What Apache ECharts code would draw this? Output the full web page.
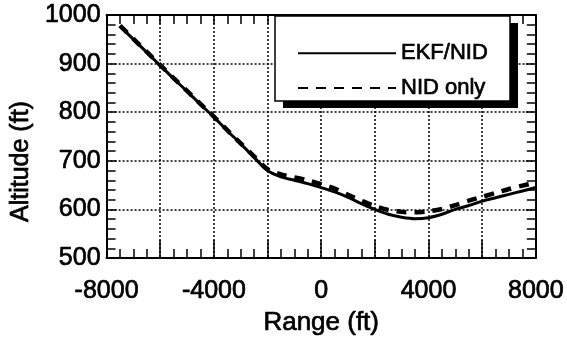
<!DOCTYPE html>
<html>
<head>
<meta charset="utf-8">
<script src="https://cdn.jsdelivr.net/npm/echarts@6/dist/echarts.min.js"></script>
<style>
  html, body { margin: 0; padding: 0; background: #fff; }
  #main { width: 567px; height: 341px; }
</style>
</head>
<body>
<div id="main"></div>
<script>
// range points (ft)
var rangeFt = [-7500, -7000, -6500, -6000, -5500, -5000, -4500, -4000, -3500, -3000, -2500, -2000,
  -1500, -1000, -500, 0, 500, 1000, 1500, 2000, 2500, 3000, 3500, 4000, 4500, 5000, 5500, 6000,
  6500, 7000, 7500, 8000];
// EKF/NID altitude (ft)
var ekfAlt = [977, 950, 923, 896, 869, 843, 816, 790, 762, 735, 707, 680,
  667, 660, 653, 645, 636, 625, 612, 600, 590, 584, 581, 583, 590, 600, 608, 617,
  624, 631, 638, 645];
// NID only altitude (ft)
var nidAlt = [978, 951, 924, 897, 870, 844, 817, 791, 763, 736, 709, 683,
  672, 666, 660, 652, 643, 630, 618, 607, 599, 595, 594, 596, 601, 609, 618, 626,
  634, 642, 649, 655];
var xTicks = [-8000, -4000, 0, 4000, 8000];

var font = 'Liberation Sans, Arial, sans-serif';
// scanned text looks a bit heavier than plain regular
var txt = { fontFamily: font, color: '#000', textBorderColor: '#000', textBorderWidth: 0.7 };

function pairs (ys) {
  return rangeFt.map(function (x, i) { return [x, ys[i]]; });
}
function style (o) { return Object.assign({}, txt, o); }

var myChart = echarts.init(document.getElementById('main'));

var dotted = { show: true, lineStyle: { color: '#000', width: 1.5, type: [2, 2] } };
var axLine = { show: true, onZero: false, lineStyle: { color: '#000', width: 2 } };
var tick = function (len) { return { inside: true, length: len, lineStyle: { color: '#000', width: 1.5 } }; };
var minor = function (n) { return { show: true, splitNumber: n, length: 9, lineStyle: { color: '#000', width: 1.5 } }; };

// legend frame: white box with a hard black drop shadow
var box = { x: 275, y: 16, w: 235, h: 85 };

var option = {
  animation: false,
  backgroundColor: '#fff',
  grid: { left: 99, right: 31, top: 15, bottom: 82 },
  graphic: [{
    type: 'rect', z: 3, silent: true,
    shape: { x: box.x + 8, y: box.y + 7, width: box.w, height: box.h },
    style: { fill: '#000' }
  }, {
    type: 'rect', z: 3, silent: true,
    shape: { x: box.x, y: box.y, width: box.w, height: box.h },
    style: { fill: '#fff', stroke: '#000', lineWidth: 1.5 }
  }],
  legend: {
    orient: 'vertical',
    left: box.x,
    top: box.y,
    padding: [26, 22, 1, 22],
    itemGap: 12,
    itemWidth: 98,
    itemHeight: 14,
    itemStyle: { opacity: 0 },
    textStyle: style({ fontSize: 22 }),
    data: ['EKF/NID', 'NID only']
  },
  xAxis: [{
    type: 'value',
    min: -8000, max: 8000, interval: 2000,
    name: 'Range (ft)',
    nameLocation: 'middle',
    nameGap: 43,
    nameTextStyle: style({ fontSize: 26 }),
    axisLine: axLine,
    axisTick: tick(18),
    minorTick: minor(4),
    axisLabel: style({
      margin: 21, fontSize: 25,
      formatter: function (v) { return xTicks.indexOf(v) >= 0 ? String(v) : ''; }
    }),
    splitLine: dotted
  }, {
    type: 'value', position: 'top',
    min: -8000, max: 8000, interval: 2000,
    axisLine: axLine,
    axisTick: tick(9),
    minorTick: minor(4),
    axisLabel: { show: false },
    splitLine: { show: false }
  }],
  yAxis: [{
    type: 'value',
    min: 500, max: 1000, interval: 100,
    name: 'Altitude (ft)',
    nameLocation: 'middle',
    nameGap: 43,
    nameTextStyle: style({ fontSize: 25, padding: [0, 50, 0, 0] }),
    axisLine: axLine,
    axisTick: tick(10),
    minorTick: minor(5),
    axisLabel: style({ margin: 6, fontSize: 25, formatter: function (v) { return String(v); } }),
    splitLine: dotted
  }, {
    type: 'value', position: 'right',
    min: 500, max: 1000, interval: 100,
    axisLine: axLine,
    axisTick: tick(10),
    minorTick: minor(5),
    axisLabel: { show: false },
    splitLine: { show: false }
  }],
  series: [{
    name: 'EKF/NID',
    type: 'line',
    symbol: 'none',
    smooth: 0.3,
    color: '#000',
    lineStyle: { color: '#000', width: 3 },
    data: pairs(ekfAlt)
  }, {
    name: 'NID only',
    type: 'line',
    symbol: 'none',
    smooth: 0.3,
    color: '#000',
    lineStyle: { color: '#000', width: 4.5, type: [10, 8] },
    data: pairs(nidAlt)
  }]
};

myChart.setOption(option);
</script>
</body>
</html>
